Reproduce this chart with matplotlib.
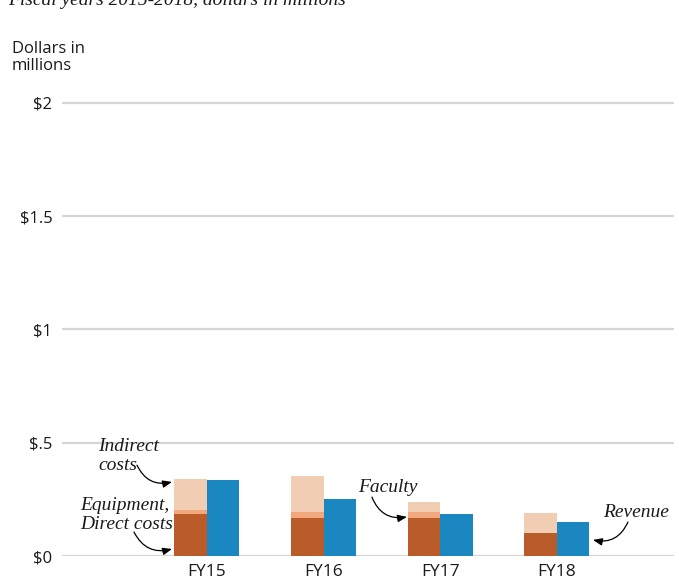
import matplotlib
matplotlib.use("Agg")
import matplotlib.pyplot as plt
import numpy as np

# Fiscal-year budget vs. revenue, dollars in millions
years = ["FY15", "FY16", "FY17", "FY18"]
direct_costs = [0.185, 0.168, 0.169, 0.102]   # equipment, direct costs
faculty = [0.018, 0.026, 0.027, 0.0]
indirect_costs = [0.137, 0.159, 0.042, 0.088]
revenue = [0.336, 0.252, 0.185, 0.150]

y_ticks = [0, 0.5, 1, 1.5, 2]
y_tick_labels = ["$0", "$.5", "$1", "$1.5", "$2"]

SANS = ["Open Sans", "DejaVu Sans"]
SERIF_IT = dict(family=["Liberation Serif", "DejaVu Serif"], style="italic")
TXT = "#1a1a1a"

C_DIRECT = "#b95c29"
C_FACULTY = "#f2a87c"
C_INDIRECT = "#f1cdb4"
C_REVENUE = "#1b87c1"
C_GRID = "#d6d6d6"

W, H = 679, 582
fig = plt.figure(figsize=(W / 100, H / 100), dpi=100)
ax = fig.add_axes([62 / W, 1 - 556 / H, (674 - 62) / W, (556 - 95) / H])

x = np.arange(len(years))
bw = 0.279
off = bw / 2

direct = np.array(direct_costs)
fac = np.array(faculty)
ind = np.array(indirect_costs)

ax.bar(x - off, direct, bw, color=C_DIRECT, zorder=3)
ax.bar(x - off, fac, bw, bottom=direct, color=C_FACULTY, zorder=3)
ax.bar(x - off, ind, bw, bottom=direct + fac, color=C_INDIRECT, zorder=3)
ax.bar(x + off, revenue, bw, color=C_REVENUE, zorder=3)

ax.set_xlim(-1.243, 4.005)
ax.set_ylim(0, 2.035)

for yv in y_ticks:
    ax.axhline(yv, color=C_GRID, lw=1.6, zorder=1)

ax.set_yticks(y_ticks)
ax.set_yticklabels(y_tick_labels, family=SANS, fontsize=12, color=TXT)
ax.set_xticks(x)
ax.set_xticklabels(years, family=SANS, fontsize=12.5, color=TXT)
ax.tick_params(axis="both", length=0)
ax.tick_params(axis="y", pad=7)
ax.tick_params(axis="x", pad=6)
for s in ax.spines.values():
    s.set_visible(False)

fig.text(12 / W, 1 - 41 / H, "Dollars in\nmillions", family=SANS, fontsize=12,
         color=TXT, va="top", ha="left", linespacing=1.12)

fig.text(8 / W, 1 - 5 / H, "Fiscal years 2015-2018, dollars in millions",
         fontsize=14, va="baseline", ha="left", color=TXT, **SERIF_IT)

arrow = dict(arrowstyle="-|>,head_length=0.55,head_width=0.22", color="black",
             lw=0.9, shrinkA=0, shrinkB=0)

# Indirect costs
ax.annotate("", xy=(-0.30, (direct + fac + ind)[0] - 0.013), xytext=(-0.60, 0.401),
            arrowprops=dict(**arrow, connectionstyle="arc3,rad=0.4"))
ax.text(-0.935, 0.522, "Indirect\ncosts", fontsize=14, va="top", ha="left",
        linespacing=1.2, color=TXT, **SERIF_IT)

# Equipment, direct costs
ax.annotate("", xy=(-0.30, 0.031), xytext=(-0.626, 0.106),
            arrowprops=dict(**arrow, connectionstyle="arc3,rad=0.4"))
ax.text(-1.09, 0.262, "Equipment,\nDirect costs", fontsize=14, va="top", ha="left",
        linespacing=1.2, color=TXT, **SERIF_IT)

# Faculty
ax.annotate("", xy=(1.715, direct[2] + fac[2] / 2 - 0.01), xytext=(1.415, 0.260),
            arrowprops=dict(**arrow, connectionstyle="arc3,rad=0.4"))
ax.text(1.295, 0.283, "Faculty", fontsize=14, va="baseline", ha="left",
        color=TXT, **SERIF_IT)

# Revenue
ax.annotate("", xy=(3.31, revenue[3] - 0.079), xytext=(3.61, 0.150),
            arrowprops=dict(**arrow, connectionstyle="arc3,rad=-0.4"))
ax.text(3.396, 0.172, "Revenue", fontsize=14, va="baseline", ha="left",
        color=TXT, **SERIF_IT)

fig.savefig("out.png", dpi=100)
